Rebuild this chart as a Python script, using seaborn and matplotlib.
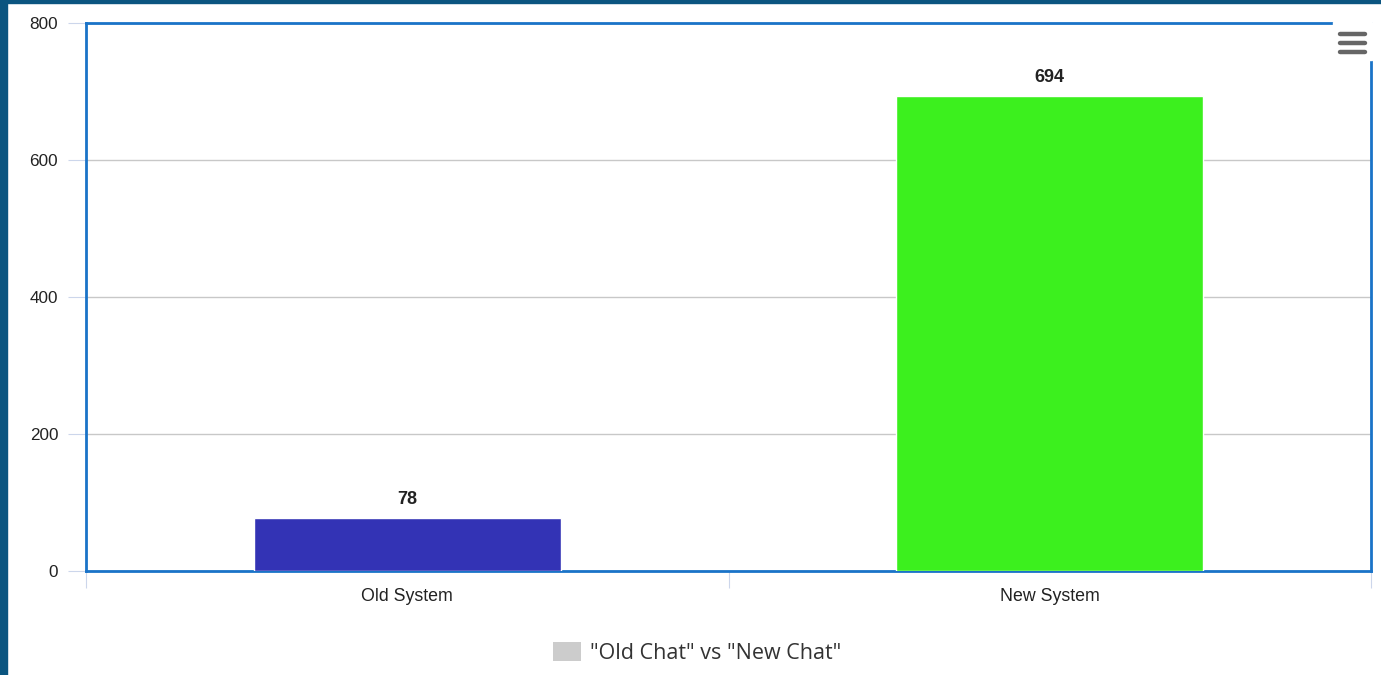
import matplotlib
matplotlib.use("Agg")
import matplotlib.pyplot as plt
import seaborn as sns
import pandas as pd
from matplotlib.patches import Rectangle, Patch
from matplotlib.lines import Line2D

categories = ["Old System", "New System"]
values = [78, 694]
bar_colors = ["#3333b5", "#3cf01e"]
y_ticks = [0, 200, 400, 600, 800]
legend_label = '"Old Chat" vs "New Chat"'

sns.set_theme(style="white")
plt.rcParams['font.family'] = ['Liberation Sans', 'DejaVu Sans']

W, H = 1381, 675
fig = plt.figure(figsize=(W / 100, H / 100), dpi=100)
fig.patch.set_facecolor("white")

# outer dark frame
fig.add_artist(Rectangle((0, 0), 7 / W, 1, transform=fig.transFigure, color="#0b5580", zorder=0))
fig.add_artist(Rectangle((0, 1 - 3 / H), 1, 3 / H, transform=fig.transFigure, color="#0b5580", zorder=0))

left, right, top, bottom = 86, 1371, 23, 571
ax = fig.add_axes([left / W, 1 - bottom / H, (right - left) / W, (bottom - top) / H])

df = pd.DataFrame({"cat": categories, "val": values})
sns.barplot(data=df, x="cat", y="val", hue="cat", palette=bar_colors,
            width=0.478, saturation=1, legend=False, ax=ax, zorder=3)

ax.set_xlim(-0.5, 1.5)
ax.set_ylim(0, 800)
ax.set_yticks(y_ticks)
ax.set_xlabel("")
ax.set_ylabel("")
ax.grid(axis="y", color="#c8c8c8", linewidth=1, zorder=0)
ax.set_axisbelow(True)

for s in ax.spines.values():
    s.set_color("#1a73c8")
    s.set_linewidth(2)

ax.tick_params(axis="y", which="major", length=13, width=0.8, color="#ccd6eb",
               pad=7, labelsize=12.3, labelcolor="#222222", left=True)
ax.tick_params(axis="x", which="major", length=0, pad=12, labelsize=12.8, labelcolor="#222222")
ax.set_xticks([-0.5, 0.5, 1.5], minor=True)
ax.tick_params(axis="x", which="minor", length=12.5, width=0.8, color="#ccd6eb", bottom=True)

for i, v in enumerate(values):
    ax.annotate(str(v), xy=(i, v), xytext=(0, 7), textcoords="offset points",
                ha="center", va="bottom", fontsize=13, fontweight="bold", color="#222222")

# hamburger menu icon
fig.add_artist(Rectangle((1333 / W, 1 - 60 / H), 39 / W, 38 / H, transform=fig.transFigure,
                         color="white", zorder=10))
for yy in [34, 43, 52]:
    fig.add_artist(Line2D([1340 / W, 1365 / W], [1 - yy / H, 1 - yy / H], transform=fig.transFigure,
                          color="#666666", linewidth=3.2, solid_capstyle="round", zorder=11))

handle = Patch(facecolor="#cccccc", edgecolor="none")
fig.legend([handle], [legend_label], loc="center", bbox_to_anchor=(697 / W, 1 - 653 / H),
           frameon=False, prop={"family": ["Open Sans", "DejaVu Sans"], "size": 15.5},
           handlelength=1.3, handleheight=1.0, handletextpad=0.45,
           labelcolor="#333333")

fig.savefig("out.png", dpi=100)
